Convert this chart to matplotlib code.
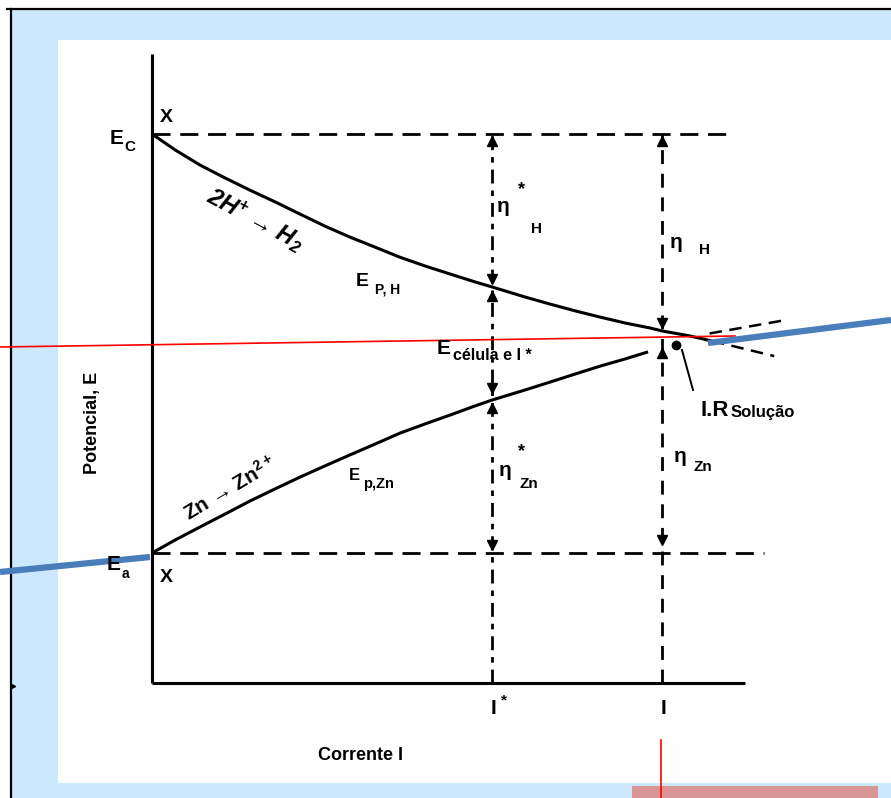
"""
plot.py
Polarisation diagram (Evans type) for Zn in acid: E vs I with overpotentials.
"""

import matplotlib
matplotlib.use("Agg")
import matplotlib.pyplot as plt
from matplotlib.patches import Rectangle

plt.rcParams['font.family'] = ['Liberation Sans', 'DejaVu Sans']
plt.rcParams['font.weight'] = 'bold'
plt.rcParams['mathtext.fontset'] = 'custom'
plt.rcParams['mathtext.rm'] = 'Liberation Sans:bold'
plt.rcParams['mathtext.it'] = 'Liberation Sans:italic:bold'
plt.rcParams['mathtext.default'] = 'regular'

# ---------- data (I relative to I*, E relative to E_a = 0, E_c = 1) ----------
I_H = [0.0, 0.068, 0.141, 0.215, 0.288, 0.362, 0.435, 0.509, 0.582, 0.656,
       0.729, 0.803, 0.876, 0.950, 1.0, 1.097, 1.171, 1.244, 1.318, 1.391,
       1.465, 1.5, 1.582, 1.647]
E_H = [1.0, 0.962, 0.926, 0.895, 0.866, 0.838, 0.809, 0.780, 0.754, 0.730,
       0.706, 0.685, 0.666, 0.647, 0.635, 0.611, 0.594, 0.578, 0.563, 0.549,
       0.537, 0.530, 0.518, 0.506]
I_H_EXT = [1.647, 1.83]
E_H_EXT = [0.506, 0.470]

I_ZN = [0.0, 0.068, 0.141, 0.215, 0.288, 0.362, 0.435, 0.509, 0.582, 0.656,
        0.729, 0.803, 0.876, 0.950, 1.0, 1.097, 1.171, 1.244, 1.318, 1.391,
        1.459]
E_ZN = [0.0, 0.031, 0.062, 0.093, 0.124, 0.153, 0.181, 0.208, 0.234, 0.260,
        0.286, 0.308, 0.329, 0.351, 0.365, 0.389, 0.408, 0.427, 0.446, 0.463,
        0.480]
I_ZN_EXT = [1.64, 1.85]
E_ZN_EXT = [0.524, 0.554]

E_C, E_A = 1.0, 0.0
I_STAR, I_CELL = 1.0, 1.5
E_FLOOR = -0.31                 # level of the current axis
E_TOP = 1.19                    # top of the potential axis
I_END = 1.744                   # end of the current axis
I_DASH_C, I_DASH_A = 1.715, 1.80

# arrow heads on the two vertical construction lines
UP_AT_STAR = [0.983, 0.613, 0.346]
DOWN_AT_STAR = [0.654, 0.394, 0.019]
UP_AT_CELL = [0.983, 0.477]
DOWN_AT_CELL = [0.549, 0.031]
IR_POINT = (1.54, 0.496)

# slide overlay lines (pixel space)
RED_H = ([0, 735], [347, 336])
RED_V = ([661, 661], [740, 798])
BLUE_UP = ([708, 891], [343, 320])
BLUE_LO = ([0, 150], [572, 557])

W, H = 891, 798
fig = plt.figure(figsize=(W / 100, H / 100), dpi=100)

# ---------- background: slide frame ----------
bg = fig.add_axes([0, 0, 1, 1], zorder=0)
bg.set_xlim(0, W)
bg.set_ylim(H, 0)
bg.axis('off')
bg.add_patch(Rectangle((12, 9), W - 12, H - 9, color='#cce9fb', lw=0))
bg.add_patch(Rectangle((58, 40), W - 58, 743, color='#fefefe', lw=0))
bg.add_patch(Rectangle((632, 786), 246, 12, color='#d99694', lw=0))
bg.plot([7, W], [9, 9], color='black', lw=1.6)
bg.plot([11, 11], [9, H], color='black', lw=1.6)

# ---------- diagram: x px = 152 + 340*I, y px = 553 - 419*E ----------
ax = fig.add_axes([0, 0, 1, 1], zorder=1)
ax.patch.set_alpha(0)
ax.set_xlim(-152 / 340, (W - 152) / 340)
ax.set_ylim((553 - H) / 419, 553 / 419)
ax.axis('off')

k = dict(color='black', lw=2.2, solid_capstyle='butt', solid_joinstyle='round')
ax.plot([0, 0], [E_FLOOR, E_TOP], **k)
ax.plot([0, I_END], [E_FLOOR, E_FLOOR], **k)
ax.plot(I_H, E_H, **k)
ax.plot(I_ZN, E_ZN, **k)

dash = dict(color='black', lw=2.0, linestyle=(0, (6.5, 3.5)))
ax.plot(I_H_EXT, E_H_EXT, color='black', lw=1.8, linestyle=(0, (5, 3)))
ax.plot(I_ZN_EXT, E_ZN_EXT, color='black', lw=1.8, linestyle=(0, (5, 3)))
ax.plot([0, I_DASH_C], [E_C, E_C], **dash)
ax.plot([0, I_DASH_A], [E_A, E_A], **dash)
ax.plot([I_STAR, I_STAR], [E_FLOOR, E_C], color='black', lw=2.0,
        linestyle=(0, (5, 2.5, 2, 2.5)))
ax.plot([I_CELL, I_CELL], [E_FLOOR, E_C], color='black', lw=2.0,
        linestyle=(0, (5, 3.5)))

ax.plot([I_STAR] * len(UP_AT_STAR), UP_AT_STAR, '^', color='black', ms=7)
ax.plot([I_STAR] * len(DOWN_AT_STAR), DOWN_AT_STAR, 'v', color='black', ms=7)
ax.plot([I_CELL] * len(UP_AT_CELL), UP_AT_CELL, '^', color='black', ms=7)
ax.plot([I_CELL] * len(DOWN_AT_CELL), DOWN_AT_CELL, 'v', color='black', ms=7)
ax.plot(*IR_POINT, 'o', color='black', ms=6)

# ---------- labels and slide overlay (pixel space) ----------
ov = fig.add_axes([0, 0, 1, 1], zorder=2)
ov.patch.set_alpha(0)
ov.set_xlim(0, W)
ov.set_ylim(H, 0)
ov.axis('off')


def lab(x, y, s, fs=14, ha='center', **kw):
    ov.text(x, y, s, fontsize=fs, ha=ha, va='center', **kw)


lab(117, 139, 'E', 15)
lab(124, 147, 'C', 11, ha='left')
lab(166, 117, 'X', 14)
lab(114, 564, 'E', 15)
lab(122, 574, 'a', 10, ha='left')
lab(166, 578, 'X', 14)

lab(255, 220, '2H$^{+}$ \u2192 H$_{2}$', 17, rotation=-28, style='italic')
lab(362, 282, 'E', 14)
lab(375, 290, 'P, H', 10, ha='left')
lab(503, 207, '\u03b7', 15)
lab(521, 190, '*', 13)
lab(537, 229, 'H', 11)
lab(676, 243, '\u03b7', 15)
lab(705, 250, 'H', 11)

lab(444, 349, 'E', 15)
lab(453, 356, 'célula e I *', 11.5, ha='left')
lab(700, 410, 'I.R', 16, ha='left')
lab(731, 413, 'Solução', 12, ha='left')
ov.plot([682, 693], [350, 390], color='black', lw=1.4)

lab(230, 488, 'Zn \u2192 Zn$^{2+}$', 15, rotation=31)
lab(354, 476, 'E', 12)
lab(363, 484, 'p,Zn', 10.5, ha='left')
lab(505, 470, '\u03b7', 15)
lab(521, 452, '*', 13)
lab(529, 484, 'Zn', 11)
lab(680, 456, '\u03b7', 15)
lab(703, 467, 'Zn', 11)

lab(493, 708, 'I', 15)
lab(504, 700, '*', 11)
lab(663, 708, 'I', 15)
lab(360, 755, 'Corrente I', 13)
lab(92, 423, 'Potencial, E', 13, rotation=90)

ov.plot(*RED_H, color='red', lw=1.2)
ov.plot(*RED_V, color='red', lw=1.2)
ov.plot(*BLUE_UP, color='#4a7ebb', lw=4.5, solid_capstyle='butt')
ov.plot(*BLUE_LO, color='#4a7ebb', lw=4.5, solid_capstyle='butt')
ov.plot([13], [686], marker='>', color='black', ms=3)

fig.savefig('out.png', dpi=100)
